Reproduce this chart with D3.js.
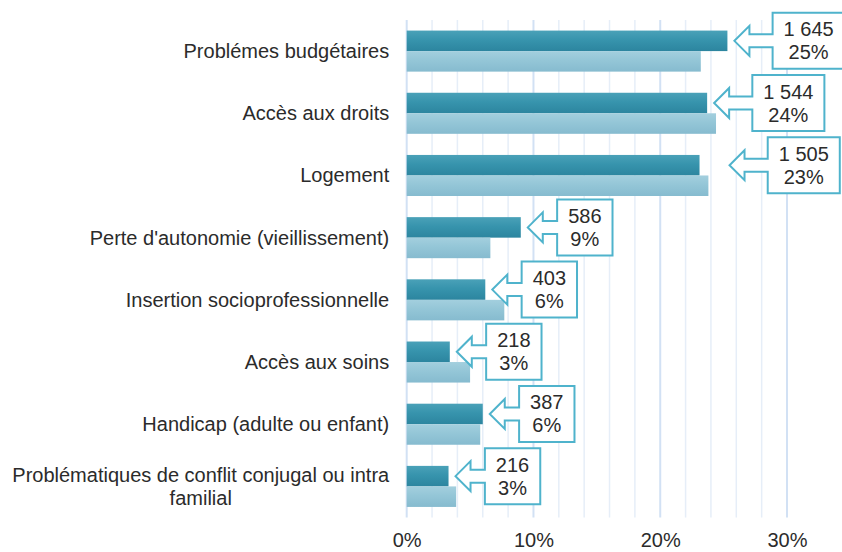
<!DOCTYPE html>
<html>
<head>
<meta charset="utf-8">
<script src="https://cdn.jsdelivr.net/npm/d3@7"></script>
<style>
  body { margin: 0; background: #fff; }
  text { font-family: "Liberation Sans", Arial, sans-serif; fill: #2b2b2b; }
</style>
</head>
<body>
<div id="chart"></div>
<script>
// data
var categories = [
  "Problémes budgétaires",
  "Accès aux droits",
  "Logement",
  "Perte d'autonomie (vieillissement)",
  "Insertion socioprofessionnelle",
  "Accès aux soins",
  "Handicap (adulte ou enfant)",
  "Problématiques de conflit conjugal ou intra familial"
];
var counts = [1645, 1544, 1505, 586, 403, 218, 387, 216];
var pctCurrent = [25.3, 23.7, 23.1, 9.0, 6.2, 3.4, 6.0, 3.3];   // dark bars
var pctPrevious = [23.2, 24.4, 23.8, 6.6, 7.7, 5.0, 5.8, 3.9];  // light bars
var tickValues = [0, 10, 20, 30];

// set the dimensions and margins of the graph
var W = 842, H = 552;
var margin = {top: 20, right: 55, bottom: 34.5, left: 406.7},
    width = W - margin.left - margin.right,
    height = H - margin.top - margin.bottom;

var svg = d3.select("#chart")
  .append("svg")
    .attr("width", W)
    .attr("height", H);

var defs = svg.append("defs");
function grad(id, stops) {
  var g = defs.append("linearGradient").attr("id", id)
    .attr("x1", 0).attr("y1", 0).attr("x2", 0).attr("y2", 1);
  stops.forEach(function(s) {
    g.append("stop").attr("offset", s[0]).attr("stop-color", s[1]);
  });
}
grad("gDark", [[0, "#4aa1b8"], [0.45, "#3794ad"], [1, "#2c859f"]]);
grad("gLight", [[0, "#a3cfde"], [0.45, "#94c6d7"], [1, "#86bbcf"]]);

var g = svg.append("g")
    .attr("transform", "translate(" + margin.left + "," + margin.top + ")");

// scales
var x = d3.scaleLinear()
    .domain([0, 30])
    .range([0, width]);

var y = d3.scaleBand()
    .domain(categories)
    .range([0, height])
    .paddingInner(0.34)
    .paddingOuter(0.17);

// grid lines: minor every 2%, major every 10%
var minor = d3.range(0, 31, 2).filter(function(d) { return d % 10 !== 0; });
g.append("g").selectAll("line.minor")
  .data(minor)
  .enter().append("line")
    .attr("x1", function(d) { return x(d); })
    .attr("x2", function(d) { return x(d); })
    .attr("y1", 0).attr("y2", height)
    .attr("stroke", "#e6eef8")
    .attr("stroke-width", 1.5);

g.append("g").selectAll("line.major")
  .data(tickValues)
  .enter().append("line")
    .attr("x1", function(d) { return x(d); })
    .attr("x2", function(d) { return x(d); })
    .attr("y1", 0).attr("y2", height)
    .attr("stroke", "#d2e1f4")
    .attr("stroke-width", 2);

// x axis tick labels
var xAxis = g.append("g")
    .attr("transform", "translate(0," + height + ")")
    .call(d3.axisBottom(x).tickValues(tickValues).tickSize(0).tickPadding(15)
      .tickFormat(function(d) { return d + "%"; }));
xAxis.select(".domain").remove();
xAxis.selectAll("text")
    .attr("font-size", "20px")
    .attr("font-family", "Liberation Sans, Arial, sans-serif")
    .attr("fill", "#2b2b2b");

var half = y.bandwidth() / 2;

// bars
g.append("g").selectAll("rect")
  .data(categories)
  .enter().append("rect")
    .attr("x", 0)
    .attr("y", function(d) { return y(d); })
    .attr("width", function(d, i) { return x(pctCurrent[i]); })
    .attr("height", half)
    .attr("fill", "url(#gDark)");

g.append("g").selectAll("rect")
  .data(categories)
  .enter().append("rect")
    .attr("x", 0)
    .attr("y", function(d) { return y(d) + half; })
    .attr("width", function(d, i) { return x(pctPrevious[i]); })
    .attr("height", half)
    .attr("fill", "url(#gLight)");

// category labels (the long one wraps on two centred lines)
var labels = g.append("g");
categories.forEach(function(c, i) {
  var cy = y(c) + y.bandwidth() / 2;
  if (c.indexOf("intra familial") > 0) {
    var t1 = labels.append("text")
      .attr("x", -17.5).attr("y", cy - 4.5)
      .attr("text-anchor", "end")
      .attr("font-size", "20px")
      .text("Problématiques de conflit conjugal ou intra");
    var w1 = t1.node().getComputedTextLength();
    labels.append("text")
      .attr("x", -17.5 - w1 / 2).attr("y", cy + 18.5)
      .attr("text-anchor", "middle")
      .attr("font-size", "20px")
      .text("familial");
  } else {
    labels.append("text")
      .attr("x", -17.5).attr("y", cy + 7)
      .attr("text-anchor", "end")
      .attr("font-size", "20px")
      .text(c);
  }
});

// callouts with left arrow
var fmt = d3.formatLocale({decimal: ",", thousands: " ", grouping: [3], currency: ["", " €"]}).format(",d");
var nudge = {"Logement": 23};
var callouts = g.append("g");
categories.forEach(function(c, i) {
  var cy = y(c) + half / 2;
  var tip = x(pctCurrent[i]) + 7 + (nudge[c] || 0);
  var co = callouts.append("g");
  var path = co.append("path");
  var l1 = co.append("text").attr("font-size", "20px").attr("text-anchor", "middle")
      .text(fmt(counts[i]));
  var l2 = co.append("text").attr("font-size", "20px").attr("text-anchor", "middle")
      .text(Math.round(pctCurrent[i]) + "%");
  var tw = Math.max(l1.node().getComputedTextLength(), l2.node().getComputedTextLength());
  var bw = tw + 22, bh = 56;
  var alen = bw * 0.53, hl = 15, hh = 15, sh = 6.5;
  var bx = tip + alen, by = cy - bh / 2;
  var p = d3.path();
  p.moveTo(bx, by);
  p.lineTo(bx + bw, by);
  p.lineTo(bx + bw, by + bh);
  p.lineTo(bx, by + bh);
  p.lineTo(bx, cy + sh);
  p.lineTo(tip + hl, cy + sh);
  p.lineTo(tip + hl, cy + hh);
  p.lineTo(tip, cy);
  p.lineTo(tip + hl, cy - hh);
  p.lineTo(tip + hl, cy - sh);
  p.lineTo(bx, cy - sh);
  p.closePath();
  path.attr("d", p.toString())
    .attr("fill", "#fff")
    .attr("stroke", "#4fb3cc")
    .attr("stroke-width", 2)
    .attr("stroke-linejoin", "miter");
  l1.attr("x", bx + bw / 2).attr("y", cy - 4.5);
  l2.attr("x", bx + bw / 2).attr("y", cy + 18.5);
});
</script>
</body>
</html>
